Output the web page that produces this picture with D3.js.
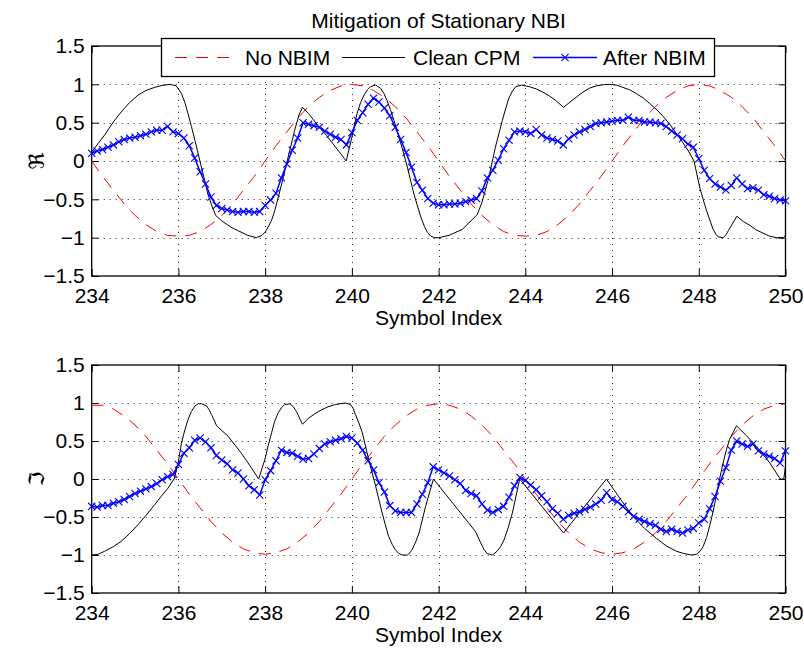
<!DOCTYPE html>
<html>
<head>
<meta charset="utf-8">
<script src="https://cdn.jsdelivr.net/npm/d3@7"></script>
<style>
  body { margin: 0; background: #fff; }
  svg { display: block; font-family: "Liberation Sans", Arial, Helvetica, sans-serif; }
</style>
</head>
<body>
<div id="chart"></div>
<script>
// tick labels
const xTicks = [234, 236, 238, 240, 242, 244, 246, 248, 250];
const yTicks = [-1.5, -1, -0.5, 0, 0.5, 1, 1.5];

// sample grid: 8 samples per symbol for the filtered signal, 4 for the interferer
const sampleX = d3.range(129).map(i => 234 + i / 8);
const nbiX = d3.range(65).map(i => 234 + i / 4);

// real part
const reNbi = [0, -0.20, -0.38, -0.56, -0.71, -0.83, -0.92, -0.97, -0.98, -0.97, -0.92, -0.83, -0.71, -0.56, -0.38, -0.20,
  0, 0.20, 0.38, 0.56, 0.71, 0.83, 0.92, 0.98, 1.0, 0.98, 0.92, 0.83, 0.71, 0.56, 0.38, 0.20,
  0, -0.20, -0.38, -0.56, -0.71, -0.83, -0.92, -0.97, -0.98, -0.97, -0.92, -0.83, -0.71, -0.56, -0.38, -0.20,
  0, 0.20, 0.38, 0.56, 0.71, 0.83, 0.92, 0.98, 1.0, 0.98, 0.92, 0.83, 0.71, 0.56, 0.38, 0.20, 0];

const reClean = [[234, 0.12], [234.15, 0.23], [234.3, 0.34], [234.5, 0.51], [234.68, 0.64], [234.87, 0.76],
  [235.07, 0.86], [235.25, 0.92], [235.45, 0.96], [235.62, 0.985], [235.8, 1.0], [235.95, 0.98],
  [236.07, 0.88], [236.15, 0.76], [236.22, 0.62], [236.3, 0.45], [236.38, 0.27], [236.53, -0.08], [236.68, -0.43],
  [236.78, -0.60], [236.86, -0.71], [237.0, -0.78], [237.2, -0.86], [237.38, -0.91], [237.6, -0.97], [237.8, -1.0],
  [237.92, -0.97], [238.0, -0.93], [238.07, -0.86], [238.15, -0.77], [238.22, -0.65], [238.3, -0.48], [238.38, -0.30],
  [238.53, 0.05], [238.68, 0.40], [238.78, 0.60], [238.86, 0.70], [239.0, 0.62], [239.22, 0.46], [239.42, 0.33],
  [239.87, 0.0], [240.0, 0.31], [240.06, 0.47], [240.12, 0.62], [240.2, 0.76], [240.28, 0.86], [240.36, 0.93],
  [240.43, 0.97], [240.55, 0.99], [240.66, 0.95], [240.74, 0.88], [240.81, 0.79], [240.89, 0.67], [240.97, 0.53],
  [241.12, 0.25], [241.28, -0.08], [241.43, -0.43], [241.52, -0.60], [241.59, -0.73], [241.67, -0.85], [241.74, -0.93],
  [241.82, -0.98], [241.9, -1.0], [242.0, -1.0], [242.24, -0.97], [242.55, -0.89], [242.89, -0.70], [243.0, -0.54],
  [243.16, -0.21], [243.31, 0.18], [243.47, 0.53], [243.55, 0.69], [243.62, 0.82], [243.7, 0.91], [243.78, 0.97],
  [243.91, 0.99], [244.09, 0.97], [244.25, 0.94], [244.4, 0.90], [244.55, 0.85], [244.7, 0.79], [244.88, 0.70],
  [245.1, 0.80], [245.33, 0.90], [245.48, 0.95], [245.64, 0.98], [245.8, 0.995], [245.95, 1.0], [246.1, 0.99],
  [246.25, 0.96], [246.4, 0.93], [246.56, 0.88], [246.72, 0.82], [246.87, 0.75], [247.03, 0.67], [247.18, 0.58],
  [247.33, 0.48], [247.48, 0.36], [247.62, 0.25], [247.75, 0.14], [247.89, 0.0], [248.02, -0.34], [248.1, -0.50],
  [248.18, -0.65], [248.26, -0.78], [248.33, -0.89], [248.4, -0.96], [248.45, -0.99], [248.56, -1.0], [248.62, -0.97],
  [248.68, -0.91], [248.88, -0.72], [249.03, -0.79], [249.18, -0.84], [249.33, -0.90], [249.48, -0.94],
  [249.63, -0.98], [249.79, -1.0], [249.95, -1.0], [250, -0.97]];

const reAfter = [0.10, 0.13, 0.15, 0.18, 0.21, 0.25, 0.28, 0.30, 0.31, 0.33, 0.35, 0.38, 0.40, 0.40, 0.45, 0.38,
  0.36, 0.30, 0.20, 0.04, -0.14, -0.30, -0.47, -0.58, -0.62, -0.64, -0.66, -0.67, -0.66, -0.66, -0.67, -0.66,
  -0.58, -0.51, -0.42, -0.22, -0.04, 0.14, 0.30, 0.50, 0.48, 0.46, 0.44, 0.39, 0.35, 0.31, 0.28, 0.21,
  0.37, 0.53, 0.63, 0.74, 0.82, 0.77, 0.69, 0.59, 0.44, 0.28, 0.11, -0.08, -0.28, -0.38, -0.49, -0.55,
  -0.57, -0.57, -0.56, -0.56, -0.55, -0.53, -0.51, -0.49, -0.39, -0.22, -0.12, 0.01, 0.16, 0.27, 0.38, 0.39,
  0.38, 0.36, 0.41, 0.34, 0.30, 0.28, 0.26, 0.21, 0.29, 0.34, 0.38, 0.41, 0.45, 0.49, 0.50, 0.51,
  0.52, 0.53, 0.53, 0.57, 0.53, 0.53, 0.51, 0.51, 0.50, 0.49, 0.45, 0.39, 0.34, 0.29, 0.22, 0.18,
  0.03, -0.12, -0.23, -0.30, -0.34, -0.38, -0.32, -0.22, -0.30, -0.36, -0.35, -0.38, -0.44, -0.46, -0.49, -0.51, -0.52];

// imaginary part
const imNbi = [0.97, 0.97, 0.92, 0.83, 0.71, 0.56, 0.38, 0.20, 0, -0.20, -0.38, -0.56, -0.71, -0.83, -0.92, -0.97,
  -0.99, -0.97, -0.92, -0.83, -0.71, -0.56, -0.38, -0.20, 0, 0.20, 0.38, 0.56, 0.71, 0.83, 0.92, 0.97,
  0.99, 0.97, 0.92, 0.83, 0.71, 0.56, 0.38, 0.20, 0, -0.20, -0.38, -0.56, -0.71, -0.83, -0.92, -0.97,
  -0.99, -0.97, -0.92, -0.83, -0.71, -0.56, -0.38, -0.20, 0, 0.20, 0.38, 0.56, 0.71, 0.83, 0.92, 0.97, 0.99];

const imClean = [[234, -1.0], [234.15, -0.99], [234.3, -0.95], [234.5, -0.89], [234.68, -0.82], [234.87, -0.72],
  [235.07, -0.60], [235.25, -0.48], [235.45, -0.34], [235.6, -0.23], [235.76, -0.12], [235.9, 0.0], [235.98, 0.17],
  [236.07, 0.47], [236.15, 0.65], [236.22, 0.78], [236.3, 0.89], [236.38, 0.96], [236.46, 0.99], [236.53, 0.99],
  [236.65, 0.96], [236.71, 0.91], [236.76, 0.85], [236.82, 0.78], [236.88, 0.70], [237.15, 0.56], [237.45, 0.34],
  [237.68, 0.15], [237.85, 0.0], [237.99, 0.25], [238.07, 0.44], [238.15, 0.61], [238.22, 0.76], [238.3, 0.87],
  [238.38, 0.94], [238.45, 0.98], [238.57, 0.99], [238.65, 0.95], [238.72, 0.89], [238.86, 0.72], [239.0, 0.80],
  [239.15, 0.86], [239.3, 0.91], [239.45, 0.95], [239.62, 0.98], [239.85, 1.0], [239.97, 0.98], [240.03, 0.93],
  [240.08, 0.85], [240.16, 0.74], [240.24, 0.61], [240.39, 0.25], [240.55, -0.10], [240.7, -0.45], [240.78, -0.62],
  [240.85, -0.76], [240.93, -0.86], [241.0, -0.93], [241.08, -0.98], [241.16, -1.0], [241.28, -1.0], [241.34, -0.97],
  [241.39, -0.93], [241.47, -0.83], [241.55, -0.71], [241.7, -0.36], [241.88, 0.0], [242.85, -0.69], [242.97, -0.84],
  [243.05, -0.93], [243.12, -0.98], [243.24, -1.0], [243.35, -0.95], [243.43, -0.89], [243.51, -0.80], [243.6, -0.65],
  [243.7, -0.45], [243.87, 0.0], [244.88, -0.71], [245.87, 0.0], [246.2, -0.27], [246.48, -0.49], [246.75, -0.65],
  [247.02, -0.78], [247.25, -0.88], [247.48, -0.95], [247.65, -0.98], [247.83, -1.0], [247.95, -0.99], [248.03, -0.95],
  [248.1, -0.89], [248.18, -0.77], [248.25, -0.62], [248.33, -0.43], [248.4, -0.23], [248.48, 0.0], [248.56, 0.21],
  [248.64, 0.39], [248.71, 0.52], [248.87, 0.70], [249.1, 0.57], [249.33, 0.43], [249.64, 0.21], [249.88, 0.0],
  [249.96, 0.0], [250, 0.17]];

const imAfter = [-0.36, -0.37, -0.35, -0.35, -0.32, -0.30, -0.27, -0.23, -0.19, -0.16, -0.13, -0.10, -0.06, -0.01, 0.03, 0.06,
  0.19, 0.34, 0.41, 0.51, 0.54, 0.49, 0.41, 0.31, 0.25, 0.20, 0.12, 0.08, 0.00, -0.09, -0.14, -0.21,
  -0.01, 0.11, 0.24, 0.38, 0.35, 0.34, 0.30, 0.26, 0.27, 0.33, 0.40, 0.46, 0.49, 0.51, 0.53, 0.56,
  0.54, 0.47, 0.38, 0.24, 0.12, -0.05, -0.17, -0.35, -0.42, -0.44, -0.44, -0.44, -0.33, -0.20, -0.05, 0.16,
  0.12, 0.08, 0.04, -0.01, -0.06, -0.15, -0.19, -0.22, -0.33, -0.41, -0.44, -0.40, -0.36, -0.24, -0.09, 0.02,
  -0.02, -0.08, -0.14, -0.22, -0.30, -0.39, -0.45, -0.53, -0.48, -0.45, -0.43, -0.40, -0.37, -0.33, -0.28, -0.18,
  -0.27, -0.30, -0.36, -0.43, -0.49, -0.53, -0.56, -0.59, -0.61, -0.66, -0.69, -0.66, -0.69, -0.71, -0.67, -0.65,
  -0.58, -0.53, -0.39, -0.23, -0.03, 0.15, 0.38, 0.50, 0.46, 0.43, 0.46, 0.37, 0.33, 0.30, 0.27, 0.21, 0.37];

const seriesNames = ["No NBIM", "Clean CPM", "After NBIM"];
const red = "#ff0000", blue = "#0000ff";
const redDash = "12,9";

const width = 804, height = 650;
const svg = d3.select("#chart").append("svg")
  .attr("width", width)
  .attr("height", height);

const xScale = d3.scaleLinear().domain([234, 250]).range([91.7, 785.5]);

const tickFmt = d => (d < 0 ? "\u2212" : "") + Math.abs(d);

const xMark = (cx, cy, s) => `M${cx - s},${cy - s}L${cx + s},${cy + s}M${cx - s},${cy + s}L${cx + s},${cy - s}`;

const drawPanel = (top, bottom, nbi, clean, after, label) => {
  const yScale = d3.scaleLinear().domain([-1.5, 1.5]).range([bottom, top]);
  const g = svg.append("g");

  // dotted grid
  g.selectAll(".gx")
    .data(xTicks.slice(1, -1))
    .join("line")
      .attr("x1", d => Math.round(xScale(d)) + 0.5)
      .attr("x2", d => Math.round(xScale(d)) + 0.5)
      .attr("y1", top)
      .attr("y2", bottom)
      .attr("stroke", "#222")
      .attr("stroke-width", 1)
      .attr("stroke-dasharray", "1,5");
  g.selectAll(".gy")
    .data(yTicks.slice(1, -1))
    .join("line")
      .attr("y1", d => Math.round(yScale(d)) + 0.5)
      .attr("y2", d => Math.round(yScale(d)) + 0.5)
      .attr("x1", xScale.range()[0])
      .attr("x2", xScale.range()[1])
      .attr("stroke", "#222")
      .attr("stroke-width", 1)
      .attr("stroke-dasharray", "1,5");

  // axes with inward ticks on all four sides
  const bottomAxis = d3.axisBottom(xScale).tickValues(xTicks).tickSize(-7).tickPadding(12).tickFormat(d3.format("d"));
  const leftAxis = d3.axisLeft(yScale).tickValues(yTicks).tickSize(-7).tickPadding(7).tickFormat(tickFmt);
  const topAxis = d3.axisTop(xScale).tickValues(xTicks).tickSize(-7).tickFormat("");
  const rightAxis = d3.axisRight(yScale).tickValues(yTicks).tickSize(-7).tickFormat("");

  g.append("g").attr("transform", `translate(0, ${bottom})`).call(bottomAxis);
  g.append("g").attr("transform", `translate(${xScale.range()[0]}, 0)`).call(leftAxis);
  g.append("g").attr("transform", `translate(0, ${top})`).call(topAxis);
  g.append("g").attr("transform", `translate(${xScale.range()[1]}, 0)`).call(rightAxis);
  g.selectAll(".domain").remove();
  g.selectAll(".tick line").attr("stroke", "#000");
  g.selectAll(".tick text")
    .attr("fill", "#000")
    .style("font-size", "21px")
    .style("font-family", "'Liberation Sans', Arial, sans-serif");

  g.append("rect")
    .attr("x", xScale.range()[0])
    .attr("y", top)
    .attr("width", xScale.range()[1] - xScale.range()[0])
    .attr("height", bottom - top)
    .attr("fill", "none")
    .attr("stroke", "#000")
    .attr("stroke-width", 1.3);

  // series
  const line = d3.line().x(d => xScale(d[0])).y(d => yScale(d[1]));

  g.append("path")
    .attr("d", line(nbiX.map((x, i) => [x, nbi[i]])))
    .attr("fill", "none")
    .attr("stroke", red)
    .attr("stroke-width", 1)
    .attr("stroke-dasharray", redDash);

  g.append("path")
    .attr("d", line(clean))
    .attr("fill", "none")
    .attr("stroke", "#000")
    .attr("stroke-width", 1);

  const afterPts = sampleX.map((x, i) => [x, after[i]]);
  g.append("path")
    .attr("d", line(afterPts))
    .attr("fill", "none")
    .attr("stroke", blue)
    .attr("stroke-width", 1.5);

  g.selectAll(".mk")
    .data(afterPts)
    .join("path")
      .attr("d", d => xMark(xScale(d[0]), yScale(d[1]), 3.6))
      .attr("stroke", blue)
      .attr("stroke-width", 1.1);

  // labels
  g.append("text")
    .text("Symbol Index")
    .attr("x", (xScale.range()[0] + xScale.range()[1]) / 2)
    .attr("y", bottom + 49)
    .attr("text-anchor", "middle")
    .style("font-size", "21px");

  g.append("text")
    .text(label)
    .attr("transform", `translate(44, ${(top + bottom) / 2}) rotate(-90)`)
    .attr("text-anchor", "middle")
    .style("font-family", "'DejaVu Serif', 'DejaVu Sans', serif")
    .style("font-size", "21px");
};

drawPanel(46, 276, reNbi, reClean, reAfter, "\u211C");
drawPanel(365, 593, imNbi, imClean, imAfter, "\u2111");

svg.append("text")
  .text("Mitigation of Stationary NBI")
  .attr("x", 438.6)
  .attr("y", 28)
  .attr("text-anchor", "middle")
  .style("font-size", "21px");

// legend
const legend = svg.append("g");
legend.append("rect")
  .attr("x", 161.5).attr("y", 38.5)
  .attr("width", 553).attr("height", 38)
  .attr("fill", "#fff")
  .attr("stroke", "#000")
  .attr("stroke-width", 1.3);

const legendItems = [
  {name: seriesNames[0], x0: 175, x1: 237, tx: 245, color: red, dash: redDash, marker: false},
  {name: seriesNames[1], x0: 342, x1: 405, tx: 413, color: "#000", dash: null, marker: false},
  {name: seriesNames[2], x0: 533, x1: 597, tx: 603, color: blue, dash: null, marker: true}
];
const ly = 57.5;
legendItems.forEach(it => {
  legend.append("line")
    .attr("x1", it.x0).attr("x2", it.x1)
    .attr("y1", ly).attr("y2", ly)
    .attr("stroke", it.color)
    .attr("stroke-width", it.marker ? 1.5 : 1)
    .attr("stroke-dasharray", it.dash);
  if (it.marker) {
    legend.append("path")
      .attr("d", xMark((it.x0 + it.x1) / 2, ly, 3.6))
      .attr("stroke", it.color)
      .attr("stroke-width", 1.1);
  }
  legend.append("text")
    .text(it.name)
    .attr("x", it.tx)
    .attr("y", ly)
    .attr("dy", "0.36em")
    .style("font-size", "21px");
});
</script>
</body>
</html>
